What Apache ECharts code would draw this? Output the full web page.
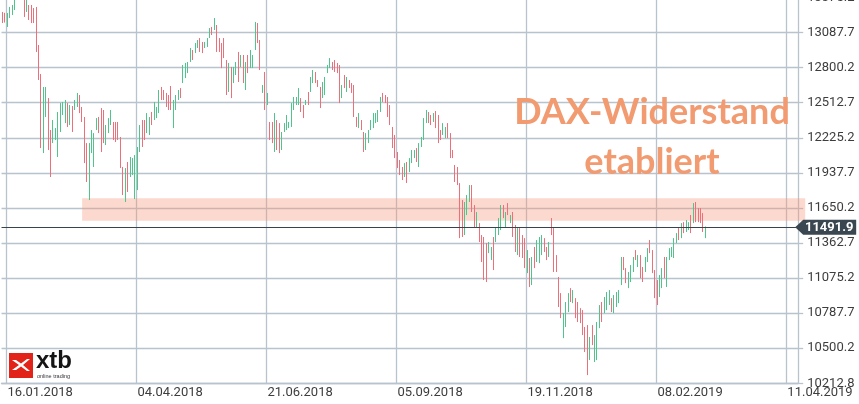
<!DOCTYPE html>
<html><head><meta charset="utf-8">
<script src="https://cdn.jsdelivr.net/npm/echarts@6/dist/echarts.min.js"></script>
<style>html,body{margin:0;padding:0;background:#fff}#c{width:859px;height:404px}</style>
</head><body><div id="c"></div>
<script>
// ---- tick labels ----
const xTickLabels = ['16.01.2018','04.04.2018','21.06.2018','05.09.2018','19.11.2018','08.02.2019','11.04.2019'];
const xTickStep = 54;          // trading days between date labels
const firstLabelIndex = 2;     // category index of 16.01.2018
const barSlots = 331;          // category slots on the axis (incl. empty future)
const yTickLabels = ['10212.8','10500.2','10787.7','11075.2','11362.7','11650.2','11937.7','12225.2','12512.7','12800.2','13087.7','13375.2'];
const yMin = 10212.75, yStep = 287.5, yMax = 13375.25;

// ---- annotations ----
const lastPrice = 11491.9;
const zoneLow = 11545, zoneHigh = 11730, zoneStartIndex = 33;
const titleLines = ['DAX-Widerstand', 'etabliert'];

// ---- daily DAX bars: [open, close, low, high] ----
const ohlcQ1 = [[13243,13193,13166,13257],[13230,13185,13170,13250],[13170,13230,13134,13248],[13225,13285,13207,13298],[13250,13300,13232,13314],[13290,13370,13273,13385],[13375,13460,13360,13480],[13465,13560,13440,13596],[13555,13420,13400,13570],[13425,13270,13216,13440],[13275,13360,13257,13380],[13300,13220,13191,13314],[13290,13200,13166,13314],[13270,13190,13166,13289],[13240,13000,12929,13298],[12960,12760,12699,12986],[12700,12300,12141,12748],[12200,12560,12100,12642],[12430,12600,12396,12642],[12530,12200,12125,12551],[12260,11970,11904,12289],[12200,12330,12182,12371],[12220,12290,12207,12305],[12120,12400,12068,12437],[12330,12480,12273,12510],[12430,12500,12412,12519],[12390,12510,12346,12535],[12490,12360,12314,12510],[12360,12470,12330,12494],[12465,12320,12273,12486],[12465,12520,12453,12535],[12500,12575,12478,12593],[12560,12460,12428,12576],[12460,12380,12355,12478],[12370,12080,12018,12396],[12150,11920,11863,12182],[11800,12120,11715,12182],[12150,12260,12100,12289],[12050,12230,11986,12264],[12300,12370,12289,12387],[12380,12300,12264,12396],[12440,12170,12109,12469],[12420,12240,12182,12453],[12200,12310,12166,12330],[12290,12370,12264,12387],[12350,12430,12330,12453],[12340,12240,12207,12355],[12335,12220,12191,12355],[12330,12240,12207,12355],[12210,12010,11977,12232],[11960,11800,11756,11986],[11770,11940,11699,11977],[12000,11820,11781,12027],[11930,12050,11904,12068],[11950,12040,11920,12059],[11800,12050,11723,12084]];
const ohlcQ2 = [[11870,12120,11797,12150],[12150,12300,12109,12330],[12350,12190,12150,12371],[12350,12240,12207,12371],[12290,12400,12264,12428],[12280,12380,12248,12396],[12420,12350,12330,12437],[12400,12500,12371,12519],[12410,12465,12387,12478],[12460,12600,12428,12617],[12625,12560,12535,12642],[12600,12555,12535,12617],[12575,12500,12478,12593],[12560,12480,12453,12576],[12620,12490,12453,12650],[12350,12510,12305,12535],[12480,12560,12453,12576],[12550,12605,12535,12617],[12620,12570,12551,12633],[12700,12800,12674,12822],[12740,12820,12715,12839],[12770,12835,12756,12847],[12870,12945,12847,12961],[12935,12880,12863,12945],[12930,12990,12920,13002],[12975,13015,12961,13027],[13030,12950,12929,13043],[12995,12940,12920,13011],[12970,13000,12961,13011],[12985,13030,12970,13043],[13060,13110,13043,13125],[13125,13080,13068,13134],[13120,13190,13109,13207],[13130,12970,12929,13150],[13030,12950,12929,13043],[12980,12830,12797,13002],[13020,12900,12879,13043],[12840,12620,12576,12863],[12640,12810,12601,12839],[12780,12590,12551,12806],[12700,12790,12674,12806],[12760,12830,12740,12847],[12900,12720,12683,12929],[12820,12890,12806,12904],[12880,12710,12674,12904],[12660,12820,12617,12847],[12880,12780,12756,12904],[12820,12925,12797,12945],[12820,12890,12797,12904],[12980,13140,12945,13175],[13140,13030,13002,13166],[13000,12820,12781,13027],[12610,12650,12593,12658],[12740,12510,12453,12765],[12510,12580,12494,12593]];
const ohlcQ3 = [[12340,12250,12207,12355],[12335,12230,12182,12355],[12160,12400,12109,12428],[12350,12170,12125,12371],[12320,12150,12100,12346],[12160,12260,12125,12273],[12285,12335,12273,12346],[12310,12395,12289,12412],[12315,12345,12305,12355],[12340,12490,12314,12510],[12475,12545,12453,12560],[12505,12550,12494,12560],[12520,12615,12494,12633],[12535,12460,12437,12551],[12480,12410,12387,12494],[12500,12528,12494,12535],[12585,12510,12494,12601],[12620,12705,12601,12724],[12690,12765,12674,12781],[12750,12690,12674,12765],[12690,12655,12642,12699],[12625,12490,12469,12642],[12570,12665,12551,12683],[12600,12705,12576,12724],[12765,12810,12756,12822],[12810,12865,12797,12879],[12840,12795,12781,12847],[12850,12780,12765,12863],[12825,12770,12756,12839],[12800,12560,12510,12822],[12570,12645,12551,12658],[12725,12650,12633,12740],[12620,12710,12601,12724],[12690,12645,12633,12699],[12665,12610,12593,12674],[12640,12430,12396,12658],[12385,12330,12314,12396],[12325,12410,12305,12428],[12360,12300,12289,12371],[12260,12130,12109,12273],[12145,12250,12125,12264],[12200,12275,12182,12289],[12300,12360,12289,12371],[12330,12410,12305,12428],[12360,12415,12346,12428],[12370,12440,12355,12453],[12455,12545,12437,12560],[12585,12535,12519,12593],[12565,12525,12510,12576],[12545,12420,12396,12560],[12480,12350,12330,12494],[12300,12170,12141,12314],[12235,12090,12059,12248],[12100,12000,11977,12109],[12030,11945,11920,12043],[11975,11900,11879,11986],[11925,12000,11904,12018]];
const ohlcQ4 = [[12010,11880,11855,12027],[11960,12045,11945,12059],[12035,12110,12018,12125],[12070,12115,12059,12125],[12130,12050,12027,12141],[12020,12160,11986,12182],[12165,12220,12150,12232],[12230,12370,12207,12387],[12365,12440,12346,12453],[12425,12365,12346,12437],[12400,12350,12330,12412],[12365,12420,12355,12428],[12430,12330,12305,12445],[12395,12220,12182,12412],[12280,12225,12207,12289],[12260,12335,12248,12346],[12240,12300,12223,12314],[12330,12245,12223,12346],[12245,12090,12059,12264],[12115,12075,12059,12125],[11990,11890,11863,12002],[11970,11860,11838,11986],[11830,11450,11403,11854],[11690,11460,11412,11715],[11460,11680,11428,11699],[11615,11740,11592,11756],[11720,11820,11699,11838],[11820,11650,11617,11838],[11655,11520,11494,11674],[11515,11600,11494,11617],[11510,11395,11371,11526],[11410,11240,11207,11428],[11390,11110,11059,11412],[11340,11090,11043,11362],[11295,11360,11280,11371],[11240,11315,11223,11330],[11390,11170,11141,11412],[11390,11480,11371,11494],[11450,11550,11428,11567],[11500,11650,11469,11674],[11660,11590,11567,11674],[11515,11600,11494,11617],[11680,11610,11592,11690],[11540,11585,11526,11592],[11600,11440,11412,11617],[11490,11320,11289,11510],[11300,11460,11264,11485],[11465,11290,11248,11485],[11410,11270,11240,11428],[11385,11190,11157,11403],[11140,11280,11116,11305],[11220,11040,11002,11240],[11050,11225,11018,11248],[11310,11190,11157,11330],[11230,11370,11207,11387],[11230,11390,11198,11412],[11290,11410,11264,11428],[11390,11310,11289,11403],[11320,11245,11223,11330],[11265,11355,11248,11371],[11550,11460,11428,11567],[11460,11170,11125,11485],[11250,11150,11125,11264],[11060,10870,10838,11084],[10935,10780,10747,10952],[10610,10770,10583,10788],[10700,10860,10674,10879],[10820,10935,10797,10952],[10980,10900,10879,10993],[10885,10960,10870,10977],[10895,10775,10747,10911],[10865,10740,10715,10879],[10815,10730,10706,10829],[10795,10640,10608,10813],[10655,10500,10469,10674],[10660,10340,10280,10690],[10430,10570,10403,10592],[10675,10550,10526,10690]];
const ohlc2019 = [[10420,10590,10387,10608],[10440,10690,10403,10715],[10690,10835,10665,10854],[10865,10740,10715,10879],[10805,10905,10788,10920],[10830,10945,10813,10961],[10870,10960,10854,10977],[10900,10820,10797,10911],[10810,10920,10788,10936],[10855,10945,10838,10961],[10885,10960,10870,10977],[11040,11225,11018,11248],[11235,11160,11141,11248],[11145,11060,11034,11157],[11010,11105,10993,11125],[11060,11165,11043,11182],[11140,11230,11125,11248],[11295,11240,11223,11305],[11180,11250,11166,11264],[11250,11110,11075,11264],[11150,11070,11043,11166],[11140,11230,11125,11248],[11225,11305,11207,11321],[11375,11300,11280,11387],[11290,11150,11116,11305],[11120,10950,10911,11141],[11040,10890,10854,11059],[10945,11080,10920,11100],[11015,11140,10993,11157],[11230,11110,11075,11248],[11040,11225,11002,11248],[11240,11310,11223,11321],[11260,11320,11248,11330],[11270,11385,11240,11403],[11375,11435,11362,11444],[11475,11405,11387,11485],[11420,11510,11403,11526],[11525,11460,11444,11534],[11465,11540,11453,11551],[11480,11525,11469,11534],[11575,11470,11444,11592],[11550,11670,11526,11690],[11680,11560,11534,11699],[11635,11560,11534,11649],[11640,11555,11526,11649],[11595,11470,11453,11608],[11420,11491.9,11403,11498]];

const bars = [].concat(ohlcQ1, ohlcQ2, ohlcQ3, ohlcQ4, ohlc2019);
const categories = [];
for (let k = 0; k < barSlots; k++) categories.push(String(k - firstLabelIndex));

const up = '#4fc48b', down = '#ec6f79', gridCol = '#b9c3cd';
const isDateTick = (idx) => (idx - firstLabelIndex) % xTickStep === 0 && idx >= firstLabelIndex;

const chart = echarts.init(document.getElementById('c'), null, {renderer: 'canvas'});
chart.setOption({
  animation: false,
  backgroundColor: '#ffffff',
  grid: {left: 1.5, right: 60.8, top: -2.47, bottom: 20.7, containLabel: false, outerBoundsMode: 'none'},
  xAxis: {
    type: 'category', data: categories, boundaryGap: true,
    axisLine: {show: true, lineStyle: {color: gridCol, width: 1.3}},
    axisTick: {show: false},
    splitLine: {show: true, interval: (i) => isDateTick(i), lineStyle: {color: gridCol, width: 1.3}},
    axisLabel: {
      interval: (i) => isDateTick(i), align: 'left', margin: 3, hideOverlap: false,
      fontFamily: 'Roboto', fontSize: 13, color: '#3d3d3d',
      formatter: (v, i) => xTickLabels[Math.round((i - firstLabelIndex) / xTickStep)] || ''
    }
  },
  yAxis: {
    type: 'value', position: 'right', min: yMin, max: yMax, interval: yStep, scale: true,
    axisLine: {show: false},
    axisTick: {show: true, length: 5, lineStyle: {color: gridCol, width: 1.3}},
    splitLine: {show: true, lineStyle: {color: gridCol, width: 1.3}},
    axisLabel: {
      margin: 9, fontFamily: 'Roboto', fontSize: 13, color: '#3d3d3d', hideOverlap: false,
      showMinLabel: true, showMaxLabel: true,
      formatter: (v) => yTickLabels[Math.round((v - yMin) / yStep)]
    }
  },
  series: [{
    type: 'candlestick', data: bars, barWidth: 1, clip: true,
    itemStyle: {color: up, color0: down, borderColor: up, borderColor0: down, borderWidth: 1},
    markLine: {
      silent: true, symbol: 'none', animation: false,
      lineStyle: {color: '#38434c', width: 1.2, type: 'solid'},
      label: {show: false},
      data: [{yAxis: lastPrice}]
    },
    z: 3
  }]
});

// annotation graphics positioned through the chart's own scales
const pZoneA = chart.convertToPixel({gridIndex: 0}, [categories[zoneStartIndex], zoneHigh]);
const pZoneB = chart.convertToPixel({gridIndex: 0}, [categories[barSlots - 1], zoneLow]);
const pPrice = chart.convertToPixel({gridIndex: 0}, [categories[barSlots - 1], lastPrice]);
const plotRight = pZoneB[0] + 1.2;
const py = pPrice[1];
chart.setOption({
  graphic: [
    {type: 'rect', z: 1, silent: true,
     shape: {x: pZoneA[0], y: pZoneA[1], width: plotRight + 7 - pZoneA[0], height: pZoneB[1] - pZoneA[1]},
     style: {fill: 'rgba(246,150,120,0.36)'}},
    {type: 'polygon', z: 10, silent: true,
     shape: {points: [[plotRight - 3, py], [plotRight + 5, py - 7.5], [plotRight + 58, py - 7.5], [plotRight + 58, py + 7.5], [plotRight + 5, py + 7.5]]},
     style: {fill: '#3a4650'}},
    {type: 'text', z: 11, silent: true, x: plotRight + 31, y: py,
     style: {text: lastPrice.toFixed(1), fill: '#ffffff', font: 'bold 13px Roboto', align: 'center', verticalAlign: 'middle'}},
    {type: 'text', z: 11, silent: true, x: 652, y: 112,
     style: {text: titleLines[0], fill: '#f29a70', font: 'bold 36px Lato', align: 'center', verticalAlign: 'middle'}},
    {type: 'text', z: 11, silent: true, x: 652, y: 162,
     style: {text: titleLines[1], fill: '#f29a70', font: 'bold 36px Lato', align: 'center', verticalAlign: 'middle'}},
    // xtb logo
    {type: 'rect', z: 11, silent: true, shape: {x: 9, y: 353, width: 24, height: 25}, style: {fill: '#e2231a'}},
    {type: 'polygon', z: 12, silent: true, shape: {points: [[12,360],[19,365],[12,370],[16,370],[21,366.5],[27,371],[30,371],[23,365],[30,359],[27,359],[21,363.5],[16,360]]}, style: {fill: '#ffffff'}},
    {type: 'text', z: 11, silent: true, x: 36, y: 373,
     style: {text: 'xtb', fill: '#151515', font: 'bold 24px "Liberation Sans"', align: 'left', verticalAlign: 'bottom'}},
    {type: 'text', z: 11, silent: true, x: 37, y: 379,
     style: {text: 'online trading', fill: '#333333', font: '5.5px "Liberation Sans"', align: 'left', verticalAlign: 'bottom'}}
  ]
});
</script></body></html>
